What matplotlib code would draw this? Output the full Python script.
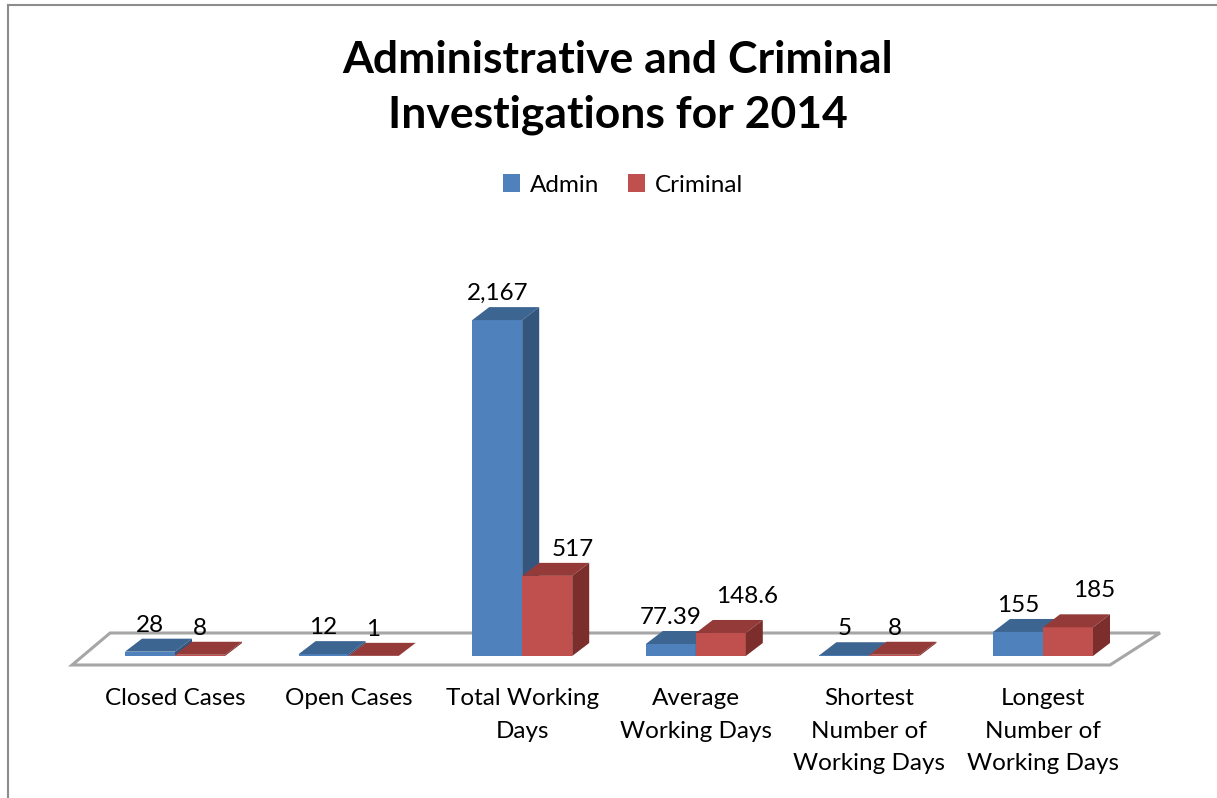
import matplotlib
matplotlib.use("Agg")
import matplotlib.pyplot as plt
from matplotlib.patches import Polygon, Patch
from matplotlib.lines import Line2D

# datos del grafico
categories = ["Closed Cases", "Open Cases", "Total Working\nDays",
              "Average\nWorking Days", "Shortest\nNumber of\nWorking Days",
              "Longest\nNumber of\nWorking Days"]
admin = [28, 12, 2167, 77.39, 5, 155]
criminal = [8, 1, 517, 148.6, 8, 185]
admin_labels = ["28", "12", "2,167", "77.39", "5", "155"]
criminal_labels = ["8", "1", "517", "148.6", "8", "185"]

# colores: frente, tapa, lateral
admin_colors = ("#4F81BD", "#3D6591", "#34557E")
criminal_colors = ("#C0504D", "#943A39", "#7C2E2D")

W, H = 1217, 798
X0, XSTEP = 175, 173.6       # px del centro del grupo 0, px por categoria
Y0, YSCALE = 656, 0.155      # px de la base, px por unidad

FONT = "Lato"


def px_x(px):
    return (px - X0) / XSTEP


def px_y(py):
    return (Y0 - py) / YSCALE


def bar3d(ax, x, h, w, dx, dy, colors, z):
    front, top, side = colors
    ax.bar(x, h, w, color=front, zorder=z, linewidth=0)
    left, right = x - w / 2, x + w / 2
    ax.add_patch(Polygon([(left, h), (right, h), (right + dx, h + dy), (left + dx, h + dy)],
                         closed=True, facecolor=top, edgecolor="none", zorder=z + 0.1))
    ax.add_patch(Polygon([(right, 0), (right + dx, dy), (right + dx, h + dy), (right, h)],
                         closed=True, facecolor=side, edgecolor="none", zorder=z + 0.1))


def main():
    fig = plt.figure(figsize=(W / 100, H / 100), dpi=100)
    L, R, T, B = 40, 1200, 260, 790
    ax = fig.add_axes([L / W, 1 - B / H, (R - L) / W, (B - T) / H])
    ax.set_xlim(px_x(L), px_x(R))
    ax.set_ylim(px_y(B), px_y(T))
    ax.axis("off")

    n = len(categories)
    w = 50 / XSTEP
    dx = 17 / XSTEP
    dy = 13 / YSCALE

    # piso
    f_lo, f_hi = px_y(665), px_y(633)
    floor = [(-0.593, f_lo), (n - 0.614, f_lo), (n - 0.326, f_hi), (-0.374, f_hi)]
    ax.add_patch(Polygon(floor, closed=True, facecolor="white", edgecolor="#A6A6A6",
                         linewidth=2.2, zorder=1))

    gap = 7 / YSCALE
    for i in range(n):
        xa, xc = i - w / 2, i + w / 2
        bar3d(ax, xa, admin[i], w, dx, dy, admin_colors, 2 + i)
        bar3d(ax, xc, criminal[i], w, dx, dy, criminal_colors, 2.5 + i)
        ax.text(xa, admin[i] + dy + gap, admin_labels[i], ha="center", va="baseline",
                fontsize=17.5, family=FONT, zorder=20)
        shift = 0.15 if criminal[i] > 100 else 0.0
        extra = 10 / YSCALE if 100 < criminal[i] < 300 else 0.0
        ax.text(xc + shift, criminal[i] + dy + gap + extra, criminal_labels[i], ha="center",
                va="baseline", fontsize=17.5, family=FONT, zorder=20)
        ax.text(i, px_y(688), categories[i], ha="center", va="top", fontsize=17.5,
                family=FONT, linespacing=1.68, multialignment="center")

    fig.text(618 / W, 1 - 40 / H, "Administrative and Criminal\nInvestigations for 2014",
             ha="center", va="top", fontsize=32, fontweight="bold", family=FONT,
             linespacing=1.45)

    handles = [Patch(facecolor=admin_colors[0], label="Admin"),
               Patch(facecolor=criminal_colors[0], label="Criminal")]
    fig.legend(handles=handles, loc="center", bbox_to_anchor=(623 / W, 1 - 185 / H),
               ncol=2, frameon=False, prop={"family": FONT, "size": 17.5},
               handlelength=0.7, handleheight=0.7, handletextpad=0.4, columnspacing=1.2)

    # borde del area del grafico
    fig.add_artist(Line2D([8 / W, 1], [1 - 5 / H, 1 - 5 / H], color="#8C8C8C", linewidth=1.5))
    fig.add_artist(Line2D([8 / W, 8 / W], [0, 1 - 5 / H], color="#8C8C8C", linewidth=1.5))

    fig.savefig("out.png", dpi=100)
    plt.close(fig)


if __name__ == "__main__":
    main()
